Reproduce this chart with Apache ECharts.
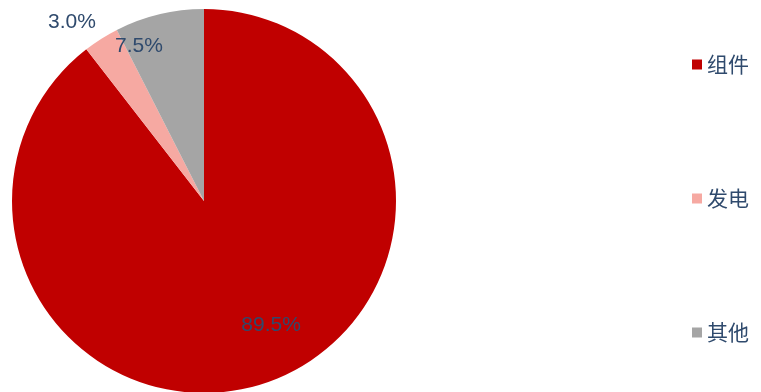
<!DOCTYPE html>
<html><head><meta charset="utf-8">
<script src="https://cdn.jsdelivr.net/npm/echarts@6/dist/echarts.min.js"></script>
<style>html,body{margin:0;padding:0;background:#fff}#c{width:761px;height:392px}</style>
</head><body><div id="c"></div>
<script>
const categories = ['组件', '发电', '其他'];
const values = [89.5, 3.0, 7.5];
const colors = ['#C00000', '#F6A9A2', '#A5A5A5'];
const labelOffsets = [[35, 31], [-79, -95], [-42, -59]];
const textColor = '#2F4A6D';
const chart = echarts.init(document.getElementById('c'));
chart.setOption({
  animation: false,
  legend: {
    orient: 'vertical',
    left: 687,
    top: 49,
    itemWidth: 10,
    itemHeight: 10,
    itemGap: 113,
    icon: 'rect',
    textStyle: { color: textColor, fontSize: 21, fontFamily: 'Noto Sans CJK SC', lineHeight: 21 },
    data: categories
  },
  series: [{
    type: 'pie',
    center: [204, 201],
    radius: [0, 192],
    startAngle: 90,
    clockwise: true,
    label: {
      show: true,
      position: 'inside',
      color: textColor,
      fontSize: 21,
      fontFamily: 'Liberation Sans, Arial',
      formatter: p => p.value.toFixed(1) + '%'
    },
    labelLine: { show: false },
    itemStyle: { borderWidth: 0 },
    emphasis: { disabled: true },
    data: categories.map((n, i) => ({
      name: n, value: values[i],
      itemStyle: { color: colors[i] },
      label: { offset: labelOffsets[i] }
    }))
  }]
});
</script></body></html>
